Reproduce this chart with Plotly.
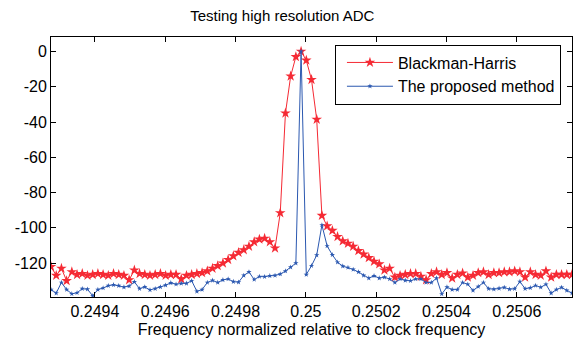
import plotly.graph_objects as go

# FFT bin grid (normalized frequency), 101 bins across the zoomed band
f_start = 0.249275
f_step = 1.482e-5

# Spectrum magnitude in dB, Blackman-Harris window
blackman_harris_db = [
    -122, -127, -123, -130, -125, -126.5, -126, -127, -126.5, -126,
    -126.5, -127, -126, -126.5, -127, -129.5, -124, -126, -126.5, -127,
    -126.5, -126, -127, -126.5, -126.5, -129, -127, -126.5, -126, -125.5,
    -124.5, -123, -121.5, -120, -118, -116, -114, -112.5, -110.5, -108,
    -106.5, -106, -108, -111.5, -91.5, -35, -14, -3, 0, -5,
    -16, -38.5, -93, -99, -101.5, -105, -107.5, -108.8, -110.5, -113,
    -115, -117, -119, -120.5, -124, -123, -128, -127, -126.5, -126,
    -126, -127.5, -129.5, -126, -125, -126.5, -125.5, -128.5, -126.5, -125.7,
    -128, -127, -125.5, -125, -126.5, -125.5, -125.5, -125, -125, -124.5,
    -125, -128, -125, -126.5, -127, -124.5, -128, -126.5, -126.5, -126.5,
    -126.5,
]

# Spectrum magnitude in dB, proposed method
proposed_db = [
    -135, -137, -131, -135, -137.4, -136.8, -134.5, -134.8, -138.5, -135,
    -134.1, -132.8, -132.3, -132.8, -133.6, -133, -130.6, -134.5, -133.5, -135.2,
    -134.5, -133.5, -132.5, -131.2, -132, -131.5, -131.5, -130, -136, -135,
    -131, -129.8, -131, -129.5, -129, -130.5, -130.8, -127, -125, -129.3,
    -127.6, -127.7, -127.2, -127, -126.2, -124.5, -122.3, -120, 0, -126.5,
    -121.5, -115.5, -98.4, -110.3, -115.3, -119.5, -121.7, -122.5, -123.6, -125,
    -127, -128.5, -127.2, -128.5, -128, -129, -131, -129, -129.8, -130,
    -129, -129, -131, -131, -128.5, -137.5, -133.6, -135, -135, -131,
    -132, -135.5, -133.3, -131, -134.5, -134.8, -134.3, -133.8, -134.8, -134.5,
    -130.5, -134.5, -134, -132.7, -133.7, -132, -137, -135, -133.8, -135.5,
    -137,
]

freq = [f_start + i * f_step for i in range(len(blackman_harris_db))]

x_tick_vals = [0.2494, 0.2496, 0.2498, 0.25, 0.2502, 0.2504, 0.2506]
x_tick_text = ["0.2494", "0.2496", "0.2498", "0.25", "0.2502", "0.2504", "0.2506"]
y_tick_vals = [0, -20, -40, -60, -80, -100, -120]
y_tick_text = ["0", "-20", "-40", "-60", "-80", "-100", "-120"]

RED = "#f52a34"
BLUE = "#2b58b0"
FONT = "Liberation Sans, Arial, sans-serif"

fig = go.Figure()
fig.add_trace(go.Scatter(
    x=freq, y=blackman_harris_db, mode="lines+markers",
    name="Blackman-Harris", legendgroup="a",
    line=dict(color=RED, width=1),
    marker=dict(symbol="star", size=8, color=RED),
))
fig.add_trace(go.Scatter(
    x=freq, y=proposed_db, mode="lines+markers",
    name="The proposed method", legendgroup="b",
    line=dict(color=BLUE, width=1),
    marker=dict(symbol="star", size=4, color=BLUE),
))

axis_common = dict(
    showline=True, linecolor="black", linewidth=1, mirror="ticks",
    ticks="inside", ticklen=5, tickcolor="black", tickwidth=1,
    showgrid=False, zeroline=False,
    tickfont=dict(family=FONT, size=16, color="black"),
)

fig.update_layout(
    width=574, height=339,
    margin=dict(l=51, r=2, t=37, b=42),
    paper_bgcolor="white", plot_bgcolor="white",
    font=dict(family=FONT, color="black"),
    title=dict(
        text="Testing high resolution ADC",
        font=dict(family=FONT, size=15, color="black"),
        x=0.444, xref="paper", xanchor="center",
        y=0.953, yref="container", yanchor="middle",
    ),
    xaxis=dict(
        range=[f_start, f_start + f_step * (len(freq) - 1)],
        tickvals=x_tick_vals, ticktext=x_tick_text,
        title=dict(text="Frequency normalized relative to clock frequency",
                   font=dict(family=FONT, size=16, color="black"),
                   standoff=4),
        **axis_common,
    ),
    yaxis=dict(
        range=[-139.2, 8.2],
        tickvals=y_tick_vals, ticktext=y_tick_text,
        **axis_common,
    ),
    legend=dict(
        x=0.545, y=0.971, xanchor="left", yanchor="top",
        bgcolor="white", bordercolor="black", borderwidth=1,
        font=dict(family=FONT, size=16, color="black"),
        tracegroupgap=0, indentation=6, itemwidth=46,
    ),
    showlegend=True,
)

fig.write_html("out.html", config={"displayModeBar": False})
